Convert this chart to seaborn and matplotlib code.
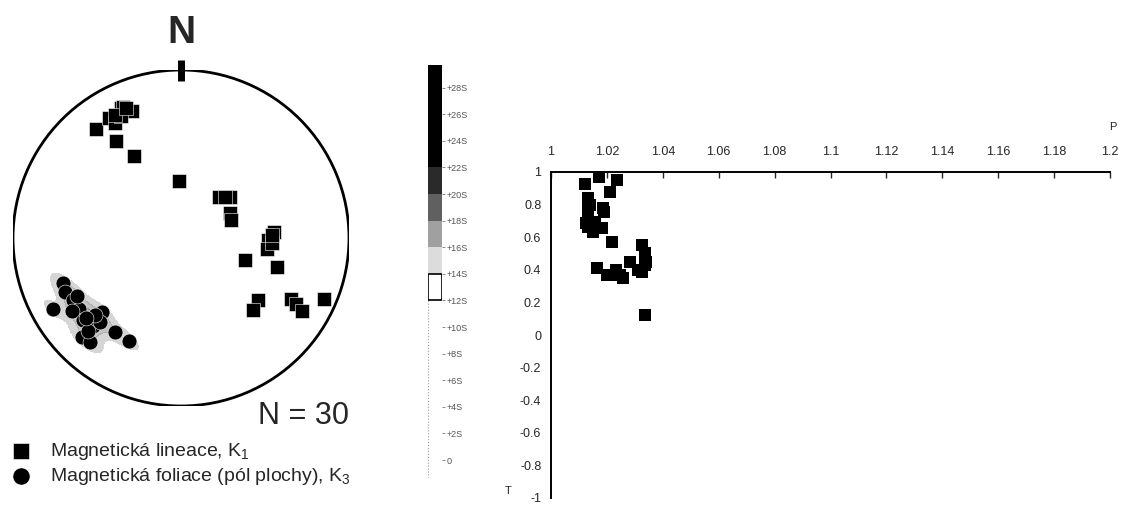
import numpy as np
import seaborn as sns
import matplotlib.pyplot as plt

# stereonet data (trend / plunge in degrees, lower hemisphere)
lin_trend = [322, 335, 336, 339, 329, 330, 334, 326, 330, 358, 43, 50, 63, 70, 86,
             91, 97, 93, 109, 107, 129, 135, 119, 120, 121, 113, 332, 337, 47, 88]
lin_plunge = [19, 16, 16, 20, 18, 22, 20, 31, 43, 62, 63, 59, 63, 64, 44,
              47, 47, 45, 57, 40, 41, 39, 26, 22, 17, 8, 18, 17, 61, 45]
fol_trend = [249, 245, 241, 240, 235, 227, 225, 225, 221, 215, 207, 230, 224, 236, 225, 228, 230, 241]
fol_plunge = [26, 25, 14, 27, 27, 36, 27, 18, 19, 32, 32, 25, 31, 23, 23, 32, 27, 30]

# Jelinek plot data
P = [1.0122, 1.0172, 1.0236, 1.0211, 1.0132, 1.0186, 1.0132, 1.0132, 1.0132, 1.0158,
     1.0183, 1.0218, 1.0165, 1.0200, 1.0229, 1.0258, 1.0283, 1.0326, 1.0337, 1.0340,
     1.0326, 1.0337, 1.0140, 1.0125, 1.0150, 1.0247, 1.0337, 1.0233, 1.0312, 1.0190]
T = [0.926, 0.969, 0.951, 0.877, 0.840, 0.779, 0.767, 0.718, 0.663, 0.693,
     0.656, 0.571, 0.411, 0.368, 0.368, 0.350, 0.448, 0.552, 0.503, 0.448,
     0.387, 0.123, 0.80, 0.69, 0.63, 0.37, 0.43, 0.40, 0.40, 0.755]
p_ticks = [1, 1.02, 1.04, 1.06, 1.08, 1.1, 1.12, 1.14, 1.16, 1.18, 1.2]
t_ticks = [1, 0.8, 0.6, 0.4, 0.2, 0, -0.2, -0.4, -0.6, -0.8, -1]

# density scale
scale_levels = [0, 2, 4, 6, 8, 10, 12, 14, 16, 18, 20, 22, 24, 26, 28]
scale_labels = ["0"] + ["+%dS" % v for v in scale_levels[1:]]
band_lo = [-1.35, 12, 14, 16, 18, 20, 22]
band_hi = [12, 14, 16, 18, 20, 22, 29.7]
band_col = ["white", "white", "#dcdcdc", "#a0a0a0", "#606060", "#2a2a2a", "black"]


def schmidt(trend, plunge):
    t = np.radians(trend)
    r = np.sqrt(2) * np.sin(np.radians(90 - np.array(plunge)) / 2)
    return r * np.sin(t), r * np.cos(t)


sns.set_style("white")
plt.rcParams['font.family'] = ['Liberation Sans', 'DejaVu Sans']
plt.rcParams['mathtext.default'] = 'regular'

fig = plt.figure(figsize=(11.24, 5.15), dpi=100)

# ---- stereonet
ax = fig.add_axes([13 / 1124, 1 - 406 / 515, 336 / 1124, 336 / 515])
lx, ly = schmidt(lin_trend, lin_plunge)
fx, fy = schmidt(fol_trend, fol_plunge)
sns.kdeplot(x=fx, y=fy, fill=True, color="#4a4a4a", levels=4, thresh=0.12,
            bw_adjust=0.85, alpha=0.55, ax=ax)
sns.scatterplot(x=lx, y=ly, marker="s", s=100, color="black", edgecolor="white",
                linewidth=0.4, label="Magnetická lineace, K$_1$", ax=ax, zorder=3)
sns.scatterplot(x=fx, y=fy, marker="o", s=115, color="black", edgecolor="white",
                linewidth=0.4, label="Magnetická foliace (pól plochy), K$_3$", ax=ax, zorder=3)
ax.add_patch(plt.Circle((0, 0), 1, fill=False, lw=2, color="black", zorder=4))
ax.plot([0, 0], [0.935, 1.06], color="black", lw=5, solid_capstyle="butt", clip_on=False)
ax.text(0, 1.22, "N", ha="center", va="center", fontsize=28, fontweight="bold")
ax.text(1.0, -1.06, "N = 30", ha="right", va="center", fontsize=22)
ax.set_xlim(-1, 1)
ax.set_ylim(-1, 1)
ax.set_aspect("equal")
ax.set_axis_off()
ax.legend(loc="upper left", bbox_to_anchor=(-0.007, 1 - 431 / 515),
          bbox_transform=fig.transFigure, frameon=False, fontsize=14,
          handletextpad=0.5, labelspacing=0.2, borderpad=0, markerscale=1.15)

# ---- density scale bar
cax = fig.add_axes([428 / 1124, 1 - 478 / 515, 14 / 1124, 413 / 515])
cax.bar([0] * len(band_lo), np.array(band_hi) - np.array(band_lo), bottom=band_lo,
        width=1, color=band_col, edgecolor="none")
cax.plot([-0.5, 0.5, 0.5, -0.5, -0.5], [12, 12, 14, 14, 12], color="black", lw=1.2)
cax.plot([-0.5, -0.5], [-1.35, 12], color="#999999", lw=0.8, ls=":")
cax.set_xlim(-0.5, 0.5)
cax.set_ylim(-1.35, 29.7)
cax.set_xticks([])
cax.yaxis.tick_right()
cax.set_yticks(scale_levels)
cax.set_yticklabels(scale_labels, fontsize=6.5, color="#555555")
cax.tick_params(axis="y", length=2, width=0.6, color="#777777", pad=1)
for s in cax.spines.values():
    s.set_visible(False)

# ---- P-T plot
pax = fig.add_axes([551 / 1124, 1 - 498 / 515, 559 / 1124, 326 / 515])
sns.scatterplot(x=P, y=T, marker="s", s=65, color="black", edgecolor="black",
                linewidth=0, ax=pax, clip_on=False)
pax.set_xlim(1, 1.2)
pax.set_ylim(-1, 1)
pax.xaxis.tick_top()
pax.set_xticks(p_ticks)
pax.set_xticklabels([str(v) for v in p_ticks])
pax.set_yticks(t_ticks)
pax.set_yticklabels([str(v) for v in t_ticks])
pax.tick_params(axis="x", direction="in", length=4, width=1, labelsize=9, pad=10)
pax.tick_params(axis="y", direction="out", length=4, width=1, labelsize=9, pad=3)
for side in ["right", "bottom"]:
    pax.spines[side].set_visible(False)
for side in ["left", "top"]:
    pax.spines[side].set_linewidth(1.4)
    pax.spines[side].set_color("black")
pax.set_xlabel("")
pax.set_ylabel("")
fig.text(1113 / 1124, 1 - 127 / 515, "P", fontsize=8, ha="center", va="center")
fig.text(508 / 1124, 1 - 491 / 515, "T", fontsize=8, ha="center", va="center")

fig.savefig("out.png", dpi=100)
